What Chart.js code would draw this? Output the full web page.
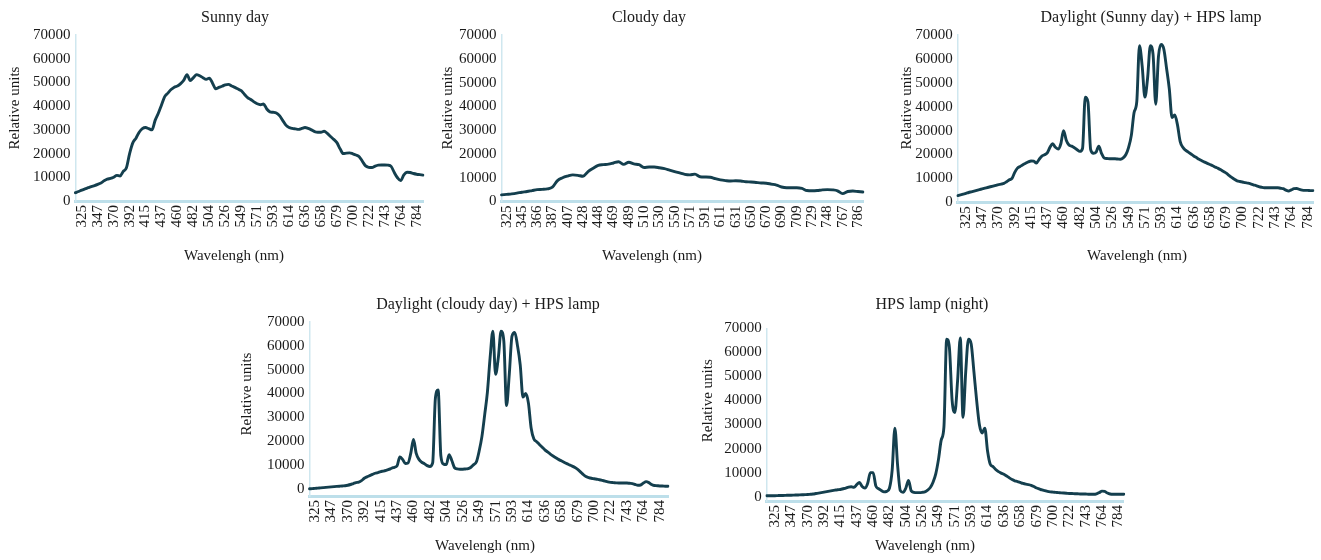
<!DOCTYPE html>
<html>
<head>
<meta charset="utf-8">
<script src="https://cdn.jsdelivr.net/npm/chart.js@4.4.1/dist/chart.umd.min.js"></script>
<style>
  html, body { margin: 0; padding: 0; background: #ffffff; overflow: hidden; width: 1321px; height: 560px; }
  canvas { position: absolute; }
</style>
</head>
<body>
<canvas id="c1"></canvas>
<canvas id="c2"></canvas>
<canvas id="c3"></canvas>
<canvas id="c4"></canvas>
<canvas id="c5"></canvas>
<script>
// ---------- tick labels (nm) ----------
const sunnyTicks  = [325,347,370,392,415,437,460,482,504,526,549,571,593,614,636,658,679,700,722,743,764,784];
const cloudyTicks = [325,345,366,387,407,428,448,469,489,510,530,550,571,591,611,631,650,670,690,709,729,748,767,786];
const yTicks = [0,10000,20000,30000,40000,50000,60000,70000];

// ---------- series values (relative units), sampled evenly between tick labels ----------
const sunnyValues = [
  3500,4000,4600,5100,5600,6100,6500,7000,7600,8500,
  9200,9500,10000,10800,10500,12500,14000,20000,24500,26500,
  29000,30500,31000,30500,30000,34000,37000,40500,44000,45500,
  47000,48000,48500,49500,51000,53300,50800,52000,53300,52800,
  52000,51300,51800,49700,47300,47900,48400,49000,49200,48500,
  47900,47200,46500,45000,43600,42800,41800,41000,40600,40900,
  38800,37600,37400,37100,36000,34000,32000,31000,30600,30400,
  30200,30600,31000,30600,30000,29300,29000,29000,29400,28500,
  27200,26000,24600,22000,20000,20200,20300,19900,19400,18700,
  16700,14800,14200,14100,14700,15100,15200,15200,15100,14600,
  12000,9800,8600,11000,12100,12000,11600,11300,11100,10900
];
const cloudyValues = [
  2800,3000,3200,3500,3900,4200,4600,5000,5100,5300,
  6000,8800,10000,10700,11200,11000,10600,12600,14000,15200,
  15500,15700,16200,16700,15600,16500,15800,15500,14300,14500,
  14500,14200,13800,13200,12600,12000,11400,11200,11500,10400,
  10300,10200,9600,9100,8800,8600,8700,8600,8300,8200,
  8000,7800,7700,7300,6900,6100,5800,5800,5800,5500,
  4600,4500,4600,4900,5000,4900,4500,3300,4200,4400,
  4200,4000
];
const sunnyHpsValues = [
  2800,3100,3400,3700,4100,4400,4700,5000,5300,5600,
  5900,6200,6500,6800,7100,7400,7600,7900,8600,9400,
  10000,12500,14300,15000,15700,16300,16900,17300,17200,16400,
  18000,19300,19900,20700,23000,24500,23000,22300,24500,30000,
  26000,24000,23500,22800,22000,21300,22500,44000,42000,22000,
  20500,21000,23500,20500,18500,18300,18200,18200,18200,18100,
  18000,18600,20000,23000,28000,37500,42000,65500,57000,44000,
  52000,65500,62000,41000,61000,66000,64000,56000,47500,35500,
  36500,32500,25500,23000,21800,21000,20200,19400,18700,18000,
  17400,16800,16300,15800,15300,14700,14200,13600,12900,12200,
  11300,10400,9600,9000,8700,8500,8200,8000,7700,7300,
  7000,6600,6300,6100,6100,6100,6100,6100,6100,5900,
  5700,5100,4700,5200,5700,5800,5400,5100,5000,5000,
  4900,4900
];
const cloudyHpsValues = [
  200,300,400,500,600,700,800,900,1000,1100,
  1200,1300,1400,1500,1700,2000,2400,2800,3000,3600,
  4600,5200,5700,6200,6700,7000,7400,7600,7900,8300,
  8800,9200,9800,13500,12500,10800,11000,15000,20800,15000,
  12500,11300,10700,9900,9500,11000,38000,41500,14000,10500,
  10300,14500,12000,9000,8500,8400,8400,8500,8600,9200,
  10300,11500,16000,22000,31000,40500,55000,66000,48000,55000,
  66000,62000,35000,48000,64000,65500,60000,52000,38500,40000,
  36000,25500,21000,19900,18700,17600,16500,15600,14700,13900,
  13200,12500,11900,11300,10700,10200,9700,9100,8300,7300,
  6200,5300,4900,4600,4400,4200,4000,3700,3400,3100,
  2900,2800,2700,2600,2600,2600,2600,2500,2400,2000,
  1700,1800,2600,3200,2800,2000,1600,1500,1400,1400,
  1300,1300
];
const hpsValues = [
  400,400,400,400,450,500,500,550,600,600,
  650,700,750,800,850,900,1000,1100,1300,1500,
  1700,1900,2100,2300,2500,2700,2900,3000,3300,3600,
  4000,4100,3900,5000,5900,4200,3600,5500,10000,10000,
  4500,3300,2600,2000,2200,3500,11000,28500,13000,2500,
  1800,3500,6700,2400,1800,1700,1700,1800,2000,2700,
  3800,6000,9500,15500,23500,29000,65500,62000,40000,35000,
  48000,66000,33000,52000,65500,63500,52000,40000,30000,26500,
  28500,19000,13500,12500,11300,10400,9800,9300,8600,7800,
  7100,6600,6300,5900,5500,5200,5000,4700,4200,3600,
  3200,2800,2500,2200,2000,1900,1800,1700,1600,1500,
  1400,1300,1300,1200,1200,1100,1100,1100,1000,1000,
  1000,1200,1700,2300,2200,1500,1100,1000,1000,1000,
  1000,1000
];

// ---------- texts ----------
const yTitle = 'Relative units';
const xTitle = 'Wavelengh (nm)';

// ---------- layout (page px) ----------
const panels = [
  { id:'c1', box:[0,0,445,270],    area:[75.4,35,433.6,201],     yMin:0,     ticks:sunnyTicks,  steps:5, padL:2, padR:2, values:sunnyValues,
    title:'Sunny day', titlePos:[235,22], xTitlePos:[234,259.5], yTitlePos:[15,108] },
  { id:'c2', box:[440,0,445,270],  area:[501.5,35,870.2,201.5],  yMin:0,     ticks:cloudyTicks, steps:3, padL:1, padR:1, values:cloudyValues,
    title:'Cloudy day', titlePos:[649,21.5], xTitlePos:[652,259.5], yTitlePos:[448.3,108] },
  { id:'c3', box:[885,0,450,270],  area:[957.8,35,1315.5,202.3], yMin:0,     ticks:sunnyTicks,  steps:6, padL:3, padR:2, values:sunnyHpsValues,
    title:'Daylight (Sunny day) + HPS lamp', titlePos:[1151,21.5], xTitlePos:[1137,259.5], yTitlePos:[906.7,108] },
  { id:'c4', box:[230,280,460,280], area:[309.5,321.7,668.2,496], yMin:-2800, ticks:sunnyTicks, steps:6, padL:2, padR:3, values:cloudyHpsValues,
    title:'Daylight (cloudy day) + HPS lamp', titlePos:[488,308.5], xTitlePos:[485,550], yTitlePos:[246.7,394] },
  { id:'c5', box:[690,280,460,280], area:[766.8,328.3,1123.8,501], yMin:-1800, ticks:sunnyTicks, steps:6, padL:3, padR:2, values:hpsValues,
    title:'HPS lamp (night)', titlePos:[932,308.5], xTitlePos:[925,549.5], yTitlePos:[708.3,400.7] }
];

const FONT = '"Liberation Serif", "Times New Roman", serif';
const TEXT = '#1a1a1a';
const LINE = '#143f4e';
const Y_W = 55, X_H = 45;

function buildLabels(ticks, steps, padL, padR) {
  const out = [];
  for (let i = 0; i < padL; i++) out.push('');
  ticks.forEach((t, idx) => {
    out.push(String(t));
    if (idx < ticks.length - 1) for (let s = 1; s < steps; s++) out.push('');
  });
  for (let i = 0; i < padR; i++) out.push('');
  return out;
}

const panelText = {
  id: 'panelText',
  afterDraw(chart, args, o) {
    const ctx = chart.ctx;
    ctx.save();
    ctx.fillStyle = TEXT;
    ctx.textAlign = 'center';
    ctx.textBaseline = 'alphabetic';
    ctx.font = '16px ' + FONT;
    ctx.fillText(o.title, o.titlePos[0], o.titlePos[1]);
    ctx.font = '15px ' + FONT;
    ctx.fillText(o.xTitle, o.xTitlePos[0], o.xTitlePos[1]);
    ctx.translate(o.yTitlePos[0], o.yTitlePos[1]);
    ctx.rotate(-Math.PI / 2);
    ctx.textBaseline = 'middle';
    ctx.fillText(o.yTitle, 0, 0);
    ctx.restore();
  }
};

panels.forEach(p => {
  const [bx, by, bw, bh] = p.box;
  const [L, T, R, B] = p.area;
  const cv = document.getElementById(p.id);
  cv.width = bw; cv.height = bh;
  cv.style.left = bx + 'px'; cv.style.top = by + 'px';
  cv.style.width = bw + 'px'; cv.style.height = bh + 'px';
  const labels = buildLabels(p.ticks, p.steps, p.padL, p.padR);
  new Chart(cv, {
    type: 'line',
    data: {
      labels: labels,
      datasets: [{
        data: p.values,
        borderColor: LINE,
        borderWidth: 2.9,
        pointRadius: 0,
        fill: false,
        cubicInterpolationMode: 'monotone',
        borderJoinStyle: 'round',
        borderCapStyle: 'round'
      }]
    },
    options: {
      responsive: false,
      animation: false,
      devicePixelRatio: 1,
      layout: { padding: { left: L - bx - Y_W, top: T - by, right: bx + bw - R, bottom: by + bh - B - X_H } },
      plugins: {
        legend: { display: false },
        tooltip: { enabled: false },
        title: { display: false },
        panelText: {
          title: p.title, xTitle: xTitle, yTitle: yTitle,
          titlePos: [p.titlePos[0] - bx, p.titlePos[1] - by],
          xTitlePos: [p.xTitlePos[0] - bx, p.xTitlePos[1] - by],
          yTitlePos: [p.yTitlePos[0] - bx, p.yTitlePos[1] - by]
        }
      },
      scales: {
        x: {
          type: 'category',
          offset: false,
          afterFit: s => { s.height = X_H; },
          grid: { display: false, drawTicks: false },
          border: { display: true, color: '#bddfea', width: 3, dash: [2, 1] },
          ticks: { autoSkip: false, maxRotation: 90, minRotation: 90, padding: 4,
                   color: TEXT, font: { family: FONT, size: 15 } }
        },
        y: {
          min: p.yMin, max: 70000,
          afterFit: s => { s.width = Y_W; },
          afterBuildTicks: s => { s.ticks = yTicks.map(v => ({ value: v })); },
          grid: { display: false, drawTicks: false },
          border: { display: true, color: '#cfe7ef', width: 1.5 },
          ticks: { padding: 5, color: TEXT, font: { family: FONT, size: 15 },
                   callback: v => String(v) }
        }
      }
    },
    plugins: [panelText]
  });
});
</script>
</body>
</html>
